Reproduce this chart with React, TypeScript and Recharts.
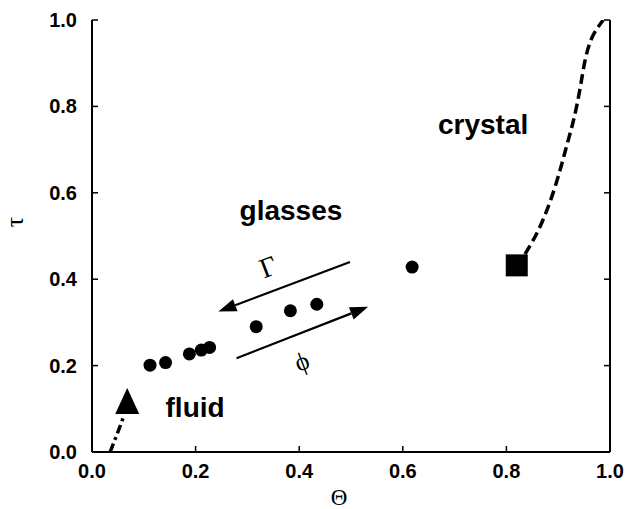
import {
  ComposedChart,
  XAxis,
  YAxis,
  Line,
  Scatter,
  ReferenceLine,
  ReferenceDot,
} from 'recharts';

const MAJOR_TICKS = [0, 0.2, 0.4, 0.6, 0.8, 1.0];
const MINOR_TICKS = [0.1, 0.3, 0.5, 0.7, 0.9];

// glass states (filled circles)
const GLASS_THETA = [0.112, 0.142, 0.188, 0.211, 0.227, 0.317, 0.383, 0.434, 0.618];
const GLASS_TAU = [0.201, 0.207, 0.227, 0.236, 0.242, 0.29, 0.327, 0.342, 0.428];

// crystal branch (dashed)
const CRYSTAL_THETA = [0.836, 0.865, 0.894, 0.916, 0.93, 0.942, 0.952, 0.966, 0.987];
const CRYSTAL_TAU = [0.458, 0.522, 0.614, 0.707, 0.77, 0.84, 0.907, 0.961, 1.0];

// fluid branch (dashed)
const FLUID_THETA = [0.035, 0.048, 0.062];
const FLUID_TAU = [0.0, 0.04, 0.085];

const CRYSTAL_POINT = { x: 0.82, y: 0.432 };
const FLUID_POINT = { x: 0.068, y: 0.116 };

// arrows: [from, to]
const GAMMA_ARROW = [{ x: 0.498, y: 0.44 }, { x: 0.244, y: 0.325 }];
const PHI_ARROW = [{ x: 0.279, y: 0.217 }, { x: 0.533, y: 0.336 }];

const zip = (xs: number[], ys: number[]) => xs.map((x, i) => ({ x, y: ys[i] }));

const SANS = '"Liberation Sans", Arial, Helvetica, sans-serif';
const SERIF = '"Liberation Serif", "DejaVu Serif", serif';

const MAJ = 6;
const MIN = 3.5;
const TICK_LINE = { stroke: '#000', strokeWidth: 1.5 };
const AXIS_LINE = { stroke: '#000', strokeWidth: 2 };
const NoLabel = () => <g />;

function BottomLabel(p: any) {
  return (
    <text x={p.x} y={Number(p.y) + 26} textAnchor="middle" fontFamily={SANS} fontWeight="bold" fontSize={20} fill="#000">
      {Number(p.payload.value).toFixed(1)}
    </text>
  );
}

function LeftLabel(p: any) {
  return (
    <text x={Number(p.x) - 15} y={p.y} dominantBaseline="central" textAnchor="end" fontFamily={SANS} fontWeight="bold" fontSize={20} fill="#000">
      {Number(p.payload.value).toFixed(1)}
    </text>
  );
}

function arrowShape(p: any) {
  const { x1, y1, x2, y2 } = p;
  const a = Math.atan2(y2 - y1, x2 - x1);
  const len = 18;
  const w = 6.5;
  const bx = x2 - len * Math.cos(a);
  const by = y2 - len * Math.sin(a);
  const nx = -Math.sin(a) * w;
  const ny = Math.cos(a) * w;
  return (
    <g>
      <line x1={x1} y1={y1} x2={bx} y2={by} stroke="#000" strokeWidth={2.2} />
      <polygon points={`${x2},${y2} ${bx + nx},${by + ny} ${bx - nx},${by - ny}`} fill="#000" />
    </g>
  );
}

const textAt = (txt: string, size: number, family: string, bold: boolean, rotate = 0) =>
  (p: any) => (
    <text
      x={p.cx}
      y={p.cy}
      textAnchor="middle"
      dominantBaseline="central"
      fontFamily={family}
      fontWeight={bold ? 'bold' : 'normal'}
      fontSize={size}
      fill="#000"
      transform={rotate ? `rotate(${rotate} ${p.cx} ${p.cy})` : undefined}
    >
      {txt}
    </text>
  );

export default function App() {
  const glasses = zip(GLASS_THETA, GLASS_TAU);
  const crystal = zip(CRYSTAL_THETA, CRYSTAL_TAU);
  const fluid = zip(FLUID_THETA, FLUID_TAU);

  const common = { type: 'number' as const, domain: [0, 1], interval: 0 as const, allowDataOverflow: true };

  return (
    <div style={{ position: 'absolute', left: 0, top: 0, background: '#fff' }}>
      <ComposedChart width={627} height={509} margin={{ top: 20, right: 0, bottom: 0, left: 0 }}>
        {/* minor tick axes (zero size, listed first so they sit on the frame) */}
        <XAxis {...common} xAxisId="bm" dataKey="x" ticks={MINOR_TICKS} height={0} tickSize={-MIN} tickMargin={MIN} tickLine={TICK_LINE} tick={NoLabel} axisLine={false} />
        <XAxis {...common} xAxisId="tm" orientation="top" dataKey="x" ticks={MINOR_TICKS} height={0} tickSize={-MIN} tickMargin={MIN} tickLine={TICK_LINE} tick={NoLabel} axisLine={false} />
        <YAxis {...common} yAxisId="lm" ticks={MINOR_TICKS} width={0} tickSize={-MIN} tickMargin={MIN} tickLine={TICK_LINE} tick={NoLabel} axisLine={false} />
        <YAxis {...common} yAxisId="rm" orientation="right" ticks={MINOR_TICKS} width={0} tickSize={-MIN} tickMargin={MIN} tickLine={TICK_LINE} tick={NoLabel} axisLine={false} />

        <XAxis
          {...common}
          xAxisId="b"
          dataKey="x"
          ticks={MAJOR_TICKS}
          height={57}
          tickSize={-MAJ}
          tickMargin={MAJ}
          tickLine={TICK_LINE}
          tick={BottomLabel}
          axisLine={AXIS_LINE}
          label={{
            content: (lp: any) => (
              <text
                x={lp.viewBox.x + lp.viewBox.width / 2 - 12}
                y={lp.viewBox.y + 45}
                textAnchor="middle"
                dominantBaseline="central"
                fontFamily={SERIF}
                fontSize={23}
                fill="#000"
              >
                Θ
              </text>
            ),
          }}
        />
        <XAxis {...common} xAxisId="t" orientation="top" dataKey="x" ticks={MAJOR_TICKS} height={0} tickSize={-MAJ} tickMargin={MAJ} tickLine={TICK_LINE} tick={NoLabel} axisLine={AXIS_LINE} />
        <YAxis
          {...common}
          yAxisId="l"
          ticks={MAJOR_TICKS}
          width={92}
          tickSize={-MAJ}
          tickMargin={MAJ}
          tickLine={TICK_LINE}
          tick={LeftLabel}
          axisLine={AXIS_LINE}
          label={{
            content: (lp: any) => (
              <text
                x={lp.viewBox.x + 14}
                y={lp.viewBox.y + 202}
                textAnchor="middle"
                dominantBaseline="central"
                fontFamily={SERIF}
                fontSize={26}
                fill="#000"
                transform={`rotate(-90 ${lp.viewBox.x + 14} ${lp.viewBox.y + 202})`}
              >
                τ
              </text>
            ),
          }}
        />
        <YAxis {...common} yAxisId="r" orientation="right" ticks={MAJOR_TICKS} width={17} tickSize={-MAJ} tickMargin={MAJ} tickLine={TICK_LINE} tick={NoLabel} axisLine={AXIS_LINE} />

        <Line
          xAxisId="b"
          yAxisId="l"
          data={crystal}
          dataKey="y"
          type="natural"
          stroke="#000"
          strokeWidth={3.5}
          strokeDasharray="10 5"
          dot={false}
          isAnimationActive={false}
        />
        <Line
          xAxisId="b"
          yAxisId="l"
          data={fluid}
          dataKey="y"
          type="monotone"
          stroke="#000"
          strokeWidth={3.5}
          strokeDasharray="9 4 3 4"
          dot={false}
          isAnimationActive={false}
        />

        <Scatter
          xAxisId="b"
          yAxisId="l"
          data={glasses}
          dataKey="y"
          fill="#000"
          isAnimationActive={false}
          shape={(p: any) => <circle cx={p.cx} cy={p.cy} r={6.5} fill="#000" />}
        />
        <Scatter
          xAxisId="b"
          yAxisId="l"
          data={[CRYSTAL_POINT]}
          dataKey="y"
          fill="#000"
          isAnimationActive={false}
          shape={(p: any) => <rect x={p.cx - 11} y={p.cy - 11} width={22} height={22} fill="#000" />}
        />
        <Scatter
          xAxisId="b"
          yAxisId="l"
          data={[FLUID_POINT]}
          dataKey="y"
          fill="#000"
          isAnimationActive={false}
          shape={(p: any) => (
            <polygon points={`${p.cx},${p.cy - 14} ${p.cx - 12},${p.cy + 12} ${p.cx + 12},${p.cy + 12}`} fill="#000" />
          )}
        />

        <ReferenceLine xAxisId="b" yAxisId="l" segment={GAMMA_ARROW} shape={arrowShape} ifOverflow="visible" />
        <ReferenceLine xAxisId="b" yAxisId="l" segment={PHI_ARROW} shape={arrowShape} ifOverflow="visible" />

        <ReferenceDot xAxisId="b" yAxisId="l" x={0.755} y={0.757} r={0} shape={textAt('crystal', 28, SANS, true)} />
        <ReferenceDot xAxisId="b" yAxisId="l" x={0.384} y={0.558} r={0} shape={textAt('glasses', 28, SANS, true)} />
        <ReferenceDot xAxisId="b" yAxisId="l" x={0.199} y={0.104} r={0} shape={textAt('fluid', 28, SANS, true)} />
        <ReferenceDot xAxisId="b" yAxisId="l" x={0.34} y={0.429} r={0} shape={textAt('Γ', 28, SERIF, false, -21)} />
        <ReferenceDot xAxisId="b" yAxisId="l" x={0.405} y={0.209} r={0} shape={textAt('ϕ', 26, SERIF, false, -21)} />
      </ComposedChart>
    </div>
  );
}
